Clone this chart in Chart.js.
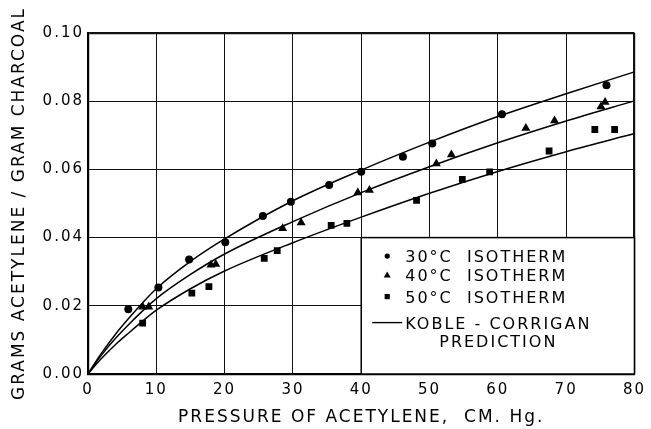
<!DOCTYPE html>
<html>
<head>
<meta charset="utf-8">
<script src="https://cdn.jsdelivr.net/npm/chart.js@4.4.1/dist/chart.umd.min.js"></script>
<style>
  html, body { margin: 0; padding: 0; background: #fff; }
  #wrap { width: 651px; height: 429px; }
</style>
</head>
<body>
<div id="wrap"><canvas id="c" width="651" height="429"></canvas></div>
<script>
// ---- data ----
const xTicks = [0, 10, 20, 30, 40, 50, 60, 70, 80];
const yTicks = [0.00, 0.02, 0.04, 0.06, 0.08, 0.10];

const p30x = [5.9, 10.3, 14.8, 20.1, 25.6, 29.7, 35.3, 40.0, 46.1, 50.4, 60.6, 75.9];
const p30y = [0.0190, 0.0254, 0.0336, 0.0386, 0.0463, 0.0505, 0.0554, 0.0593, 0.0637, 0.0676, 0.0762, 0.0847];

const p40x = [8.0, 8.9, 18.0, 18.7, 28.5, 31.2, 39.5, 41.2, 51.0, 53.2, 64.1, 68.3, 75.1, 75.7];
const p40y = [0.0197, 0.0197, 0.0320, 0.0322, 0.0427, 0.0444, 0.0532, 0.0539, 0.0617, 0.0643, 0.0721, 0.0743, 0.0784, 0.0797];

const p50x = [8.0, 15.2, 17.7, 25.8, 27.7, 35.6, 37.9, 48.1, 54.8, 58.8, 67.5, 74.2, 77.1];
const p50y = [0.0149, 0.0237, 0.0256, 0.0339, 0.0362, 0.0436, 0.0442, 0.0509, 0.0571, 0.0593, 0.0654, 0.0717, 0.0717];

const curveX = [0, 1, 2, 4, 6, 8, 10, 15, 20, 30, 40, 50, 60, 70, 80];
const curve30 = [0, 0.0032, 0.0062, 0.0116, 0.0164, 0.0209, 0.0250, 0.0330, 0.0396, 0.0508, 0.0598, 0.0680, 0.0755, 0.0822, 0.0886];
const curve40 = [0, 0.0029, 0.0056, 0.0104, 0.0146, 0.0185, 0.0221, 0.0292, 0.0352, 0.0447, 0.0532, 0.0608, 0.0678, 0.0742, 0.0801];
const curve50 = [0, 0.0024, 0.0046, 0.0086, 0.0121, 0.0155, 0.0187, 0.0250, 0.0302, 0.0385, 0.0460, 0.0530, 0.0594, 0.0652, 0.0705];

const legendLabels = ['30°C  ISOTHERM', '40°C  ISOTHERM', '50°C  ISOTHERM', 'KOBLE - CORRIGAN', 'PREDICTION'];
const xTitle = 'PRESSURE OF ACETYLENE,  CM. Hg.';
const yTitle = 'GRAMS ACETYLENE / GRAM CHARCOAL';

// ---- build datasets ----
const zip = (xs, ys) => xs.map((x, i) => ({ x: x, y: ys[i] }));
const FONT = '"DejaVu Sans", sans-serif';

function pointSet(label, xs, ys, style, r) {
  return {
    label, data: zip(xs, ys), showLine: false,
    pointStyle: style, pointRadius: r, pointHoverRadius: r,
    pointBackgroundColor: '#000', pointBorderColor: '#000', pointBorderWidth: 0, order: 1
  };
}
function curveSet(label, ys) {
  return {
    label, data: zip(curveX, ys), showLine: true, pointRadius: 0,
    borderColor: '#000', borderWidth: 1.5, cubicInterpolationMode: 'monotone', fill: false, order: 2
  };
}

const spacingPlugin = {
  id: 'spacing',
  beforeDraw(chart) { chart.ctx.letterSpacing = '2px'; },
  afterDraw(chart) { chart.ctx.letterSpacing = '0px'; }
};

const legendBoxPlugin = {
  id: 'legendBox',
  beforeDatasetsDraw(chart) {
    const { ctx, scales: { x, y } } = chart;
    const l = x.getPixelForValue(40), r = x.getPixelForValue(80);
    const t = y.getPixelForValue(0.04), b = y.getPixelForValue(0);
    ctx.save();
    ctx.fillStyle = '#fff';
    ctx.fillRect(l, t, r - l, b - t);
    ctx.strokeStyle = '#000';
    ctx.lineWidth = 1.5;
    ctx.strokeRect(l, t, r - l, b - t);
    ctx.restore();
  },
  afterDraw(chart) {
    const { ctx, scales: { x, y } } = chart;
    const l = x.getPixelForValue(40);
    const t = y.getPixelForValue(0.04);
    const mx = l + 26, tx = l + 44;
    const rows = [18.5, 37.5, 59, 85, 103.5];
    ctx.save();
    ctx.fillStyle = '#000';
    ctx.strokeStyle = '#000';
    ctx.letterSpacing = '2px';
    ctx.font = '16px ' + FONT;
    ctx.textBaseline = 'alphabetic';
    ctx.textAlign = 'left';
    // markers
    let cy = t + rows[0];
    ctx.beginPath(); ctx.arc(mx, cy, 2.6, 0, Math.PI * 2); ctx.fill();
    cy = t + rows[1];
    ctx.beginPath(); ctx.moveTo(mx, cy - 3.5); ctx.lineTo(mx + 3.5, cy + 2.5); ctx.lineTo(mx - 3.5, cy + 2.5); ctx.closePath(); ctx.fill();
    cy = t + rows[2];
    ctx.fillRect(mx - 2.6, cy - 2.6, 5.2, 5.2);
    cy = t + rows[3];
    ctx.lineWidth = 1.4;
    ctx.beginPath(); ctx.moveTo(l + 11, cy); ctx.lineTo(l + 41, cy); ctx.stroke();
    // texts
    for (let i = 0; i < 4; i++) ctx.fillText(legendLabels[i], tx, t + rows[i] + 6);
    ctx.fillText(legendLabels[4], l + 78, t + rows[4] + 6);
    ctx.restore();
  }
};

new Chart(document.getElementById('c'), {
  type: 'scatter',
  data: {
    datasets: [
      pointSet('30°C ISOTHERM', p30x, p30y, 'circle', 4),
      pointSet('40°C ISOTHERM', p40x, p40y, 'triangle', 5.2),
      pointSet('50°C ISOTHERM', p50x, p50y, 'rect', 4.8),
      curveSet('KOBLE - CORRIGAN 30', curve30),
      curveSet('KOBLE - CORRIGAN 40', curve40),
      curveSet('KOBLE - CORRIGAN 50', curve50)
    ]
  },
  options: {
    responsive: false,
    animation: false,
    layout: { padding: { left: 0, right: 16, top: 33, bottom: 0 } },
    plugins: { legend: { display: false }, tooltip: { enabled: false } },
    scales: {
      x: {
        type: 'linear', min: 0, max: 80,
        afterBuildTicks(s) { s.ticks = xTicks.map(v => ({ value: v })); },
        afterFit(s) { s.height = 55; },
        grid: {
          color: '#111',
          lineWidth: c => (c.tick && c.tick.value === 80 ? 2.2 : 1),
          drawTicks: false
        },
        border: { color: '#000', width: 2.2 },
        ticks: { color: '#000', font: { family: FONT, size: 15 }, padding: 7, maxRotation: 0 },
        title: {
          display: true, text: xTitle, color: '#000',
          font: { family: FONT, size: 17 }, padding: { top: 0, bottom: 1 }
        }
      },
      y: {
        type: 'linear', min: 0, max: 0.1,
        afterBuildTicks(s) { s.ticks = yTicks.map(v => ({ value: v })); },
        afterFit(s) { s.width = 88; },
        grid: {
          color: '#111',
          lineWidth: c => (c.tick && c.tick.value === 0.1 ? 2.2 : 1),
          drawTicks: false
        },
        border: { color: '#000', width: 2.2 },
        ticks: {
          color: '#000', font: { family: FONT, size: 15 }, padding: 4,
          callback: v => Number(v).toFixed(2)
        },
        title: {
          display: true, text: yTitle, color: '#000',
          font: { family: FONT, size: 17 }, padding: { top: 9, bottom: 0 }
        }
      }
    }
  },
  plugins: [spacingPlugin, legendBoxPlugin]
});
</script>
</body>
</html>
